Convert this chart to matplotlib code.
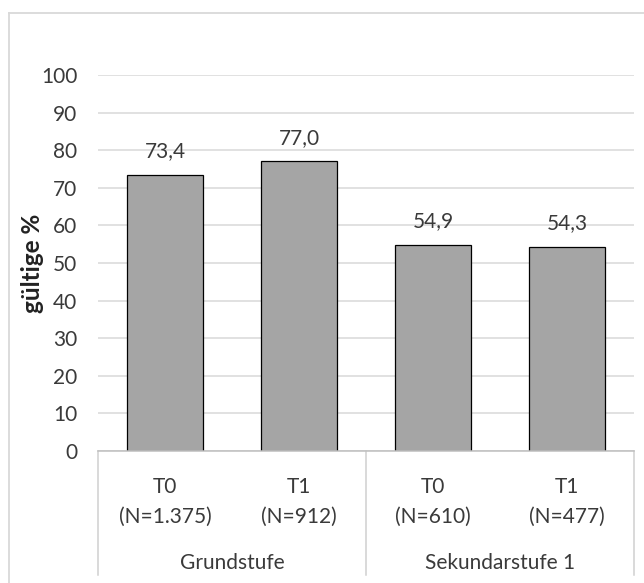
import matplotlib
matplotlib.use("Agg")
import matplotlib.pyplot as plt
from matplotlib.lines import Line2D

# Daten
zeitpunkte = ["T0", "T1", "T0", "T1"]
stichprobe = ["(N=1.375)", "(N=912)", "(N=610)", "(N=477)"]
werte = [73.4, 77.0, 54.9, 54.3]
gruppen = ["Grundstufe", "Sekundarstufe 1"]
yticks = [0, 10, 20, 30, 40, 50, 60, 70, 80, 90, 100]

plt.rcParams['font.family'] = ['Lato', 'DejaVu Sans']
textfarbe = '#3a3a3a'
fs = 15

fig = plt.figure(figsize=(6.44, 5.83), dpi=100)
ax = fig.add_axes([98/644, (583-451)/583, (634-98)/644, 376/583])

x = list(range(len(werte)))
ax.bar(x, werte, width=0.57, color='#a5a5a5', edgecolor='black', linewidth=0.9, zorder=3)

# Werte über den Balken (Komma als Dezimaltrennzeichen)
for xi, w in zip(x, werte):
    ax.annotate(f"{w:.1f}".replace(".", ","), (xi, w), xytext=(0, 17),
                textcoords='offset points', ha='center', va='center',
                fontsize=fs, color=textfarbe)

ax.set_xlim(-0.5, len(werte) - 0.5)
ax.set_ylim(0, 100)
ax.set_yticks(yticks)
ax.tick_params(axis='y', length=0, pad=15, labelsize=fs, labelcolor=textfarbe)
ax.set_xticks([])
ax.grid(axis='y', color='#d9d9d9', linewidth=1.1, zorder=0)
for s in ax.spines.values():
    s.set_visible(False)

ax.set_ylabel("gültige %", fontsize=17.5, fontweight='bold', color='#222222')
ax.yaxis.set_label_coords((44-98)/536, 0.5)

# Kategorienachse mit zwei Ebenen
trans = ax.get_xaxis_transform()
ax.add_line(Line2D([-0.5, len(werte) - 0.5], [0, 0], transform=trans,
                   color='#bfbfbf', linewidth=1.1, clip_on=False, zorder=4))
for xv in [-0.5, 1.5, 3.5]:
    ax.add_line(Line2D([xv, xv], [0, -0.33], transform=trans,
                       color='#d0d0d0', linewidth=1.1, clip_on=False))
for xi, t, n in zip(x, zeitpunkte, stichprobe):
    ax.text(xi, -0.096, t, transform=trans, ha='center', va='center',
            fontsize=fs, color=textfarbe)
    ax.text(xi, -0.176, n, transform=trans, ha='center', va='center',
            fontsize=fs, color=textfarbe)
for i, g in enumerate(gruppen):
    ax.text(2*i + 0.5, -0.298, g, transform=trans, ha='center', va='center',
            fontsize=fs, color=textfarbe)

# äußerer Rahmen des Diagramms
fig.add_artist(Line2D([9/644, 9/644], [0, 1 - 13/583], transform=fig.transFigure,
                      color='#d9d9d9', linewidth=1.3))
fig.add_artist(Line2D([9/644, 1], [1 - 13/583, 1 - 13/583], transform=fig.transFigure,
                      color='#d9d9d9', linewidth=1.3))

fig.savefig("out.png", dpi=100)
